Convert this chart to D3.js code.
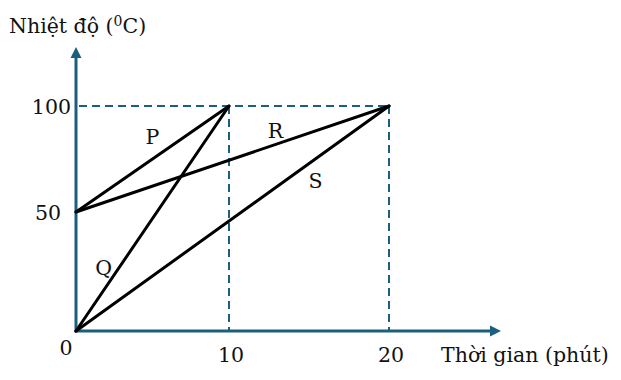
<!DOCTYPE html>
<html><head><meta charset="utf-8">
<script src="https://cdn.jsdelivr.net/npm/d3@7/dist/d3.min.js"></script>
<style>body{margin:0;background:#fff}svg{display:block}text{font-family:"DejaVu Serif",serif;fill:#111}</style>
</head><body><svg id="c" width="621" height="380"></svg>
<script>
const xTicks = [10, 20];
const yTicks = [50, 100];
const seriesNames = ["P", "Q", "R", "S"];
const seriesStart = [[0, 50], [0, 0], [0, 50], [0, 0]];
const seriesEnd = [[10, 100], [10, 100], [20, 100], [20, 100]];
const labelPos = [[5.0, 85.4], [1.8, 26.5], [12.9, 88.2], [15.4, 64.6]];
const xTitle = "Thời gian (phút)";
const yTitle = "Nhiệt độ (";

const svg = d3.select("#c");
const x = d3.scaleLinear().domain([0, 10, 20, 27]).range([76, 229, 389, 501]);
const y = d3.scaleLinear().domain([0, 50, 100, 128]).range([331, 212, 106, 47]);
const axisColor = "#1b5f7e";
const fs = 20.5;

// dashed guides
const gd = svg.append("g").attr("stroke", axisColor).attr("stroke-width", 2).attr("stroke-dasharray", "8,5");
gd.append("line").attr("x1", x(0) + 3).attr("x2", x(20)).attr("y1", y(100)).attr("y2", y(100));
xTicks.forEach(t => gd.append("line").attr("x1", x(t)).attr("x2", x(t)).attr("y1", y(100)).attr("y2", y(0)));

// axes
const ax = svg.append("g");
ax.append("line").attr("x1", x(0)).attr("x2", x(27) - 8).attr("y1", y(0)).attr("y2", y(0)).attr("stroke", axisColor).attr("stroke-width", 3);
ax.append("line").attr("x1", x(0)).attr("x2", x(0)).attr("y1", y(0) + 1.5).attr("y2", y(128) + 8).attr("stroke", axisColor).attr("stroke-width", 3);
ax.append("path").attr("fill", axisColor)
  .attr("d", `M${x(27)},${y(0)} L${x(27) - 11},${y(0) - 5.5} L${x(27) - 11},${y(0) + 5.5}Z`);
ax.append("path").attr("fill", axisColor)
  .attr("d", `M${x(0)},${y(128)} L${x(0) - 5.5},${y(128) + 11} L${x(0) + 5.5},${y(128) + 11}Z`);

// series lines
const line = d3.line().x(d => x(d[0])).y(d => y(d[1]));
seriesNames.forEach((n, i) => {
  svg.append("path").attr("d", line([seriesStart[i], seriesEnd[i]]))
    .attr("stroke", "#000").attr("stroke-width", 3).attr("fill", "none").attr("stroke-linecap", "round");
  svg.append("text").attr("x", x(labelPos[i][0])).attr("y", y(labelPos[i][1]))
    .attr("text-anchor", "middle").attr("dominant-baseline", "central").attr("font-size", fs).text(n);
});

// tick labels
xTicks.forEach(t => svg.append("text").attr("x", x(t) + 2).attr("y", y(0) + 31).attr("text-anchor", "middle").attr("font-size", fs).text(t));
svg.append("text").attr("x", x(0) - 10).attr("y", y(0) + 24).attr("text-anchor", "middle").attr("font-size", fs).text("0");
yTicks.forEach(t => svg.append("text").attr("x", t === 100 ? x(0) - 5 : x(0) - 15).attr("y", y(t) + 8).attr("text-anchor", "end").attr("font-size", fs).text(t));

// titles
svg.append("text").attr("x", 441).attr("y", 362).attr("font-size", fs).text(xTitle);
const yt = svg.append("text").attr("x", 9).attr("y", 33).attr("font-size", fs);
yt.append("tspan").text(yTitle);
yt.append("tspan").attr("font-size", 14).attr("dy", -7).text("0");
yt.append("tspan").attr("dy", 7).text("C)");
</script></body></html>
